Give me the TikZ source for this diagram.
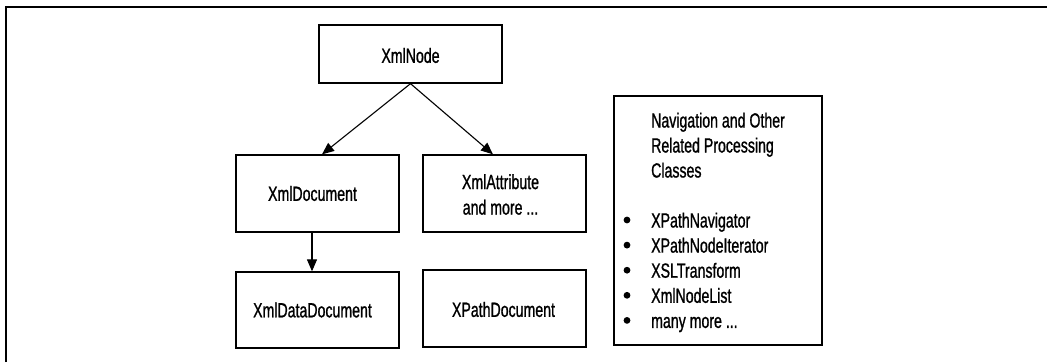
\documentclass[tikz,border=0pt]{standalone}
\usepackage{fontspec}
\setmainfont{Liberation Sans}[FakeStretch=0.69,FakeBold=1]
\usetikzlibrary{arrows.meta,calc}
\begin{document}
\begin{tikzpicture}[x=1pt,y=-1pt,
  box/.style={draw,line width=1.3pt,rectangle,inner sep=0pt},
  lbl/.style={font=\fontsize{20.5}{25.5}\selectfont,inner sep=0pt,align=center},
  itm/.style={font=\fontsize{20.5}{25.5}\selectfont,inner sep=0pt,anchor=base west},
  arr/.style={line width=1.1pt,-{Triangle[length=12pt,width=10pt]}}]
\useasboundingbox (0,0) rectangle (1047,362);
\draw[line width=2pt] (6,362) -- (6,7) -- (1047,7);
% boxes
\node[box,minimum width=183pt,minimum height=58pt] (xmlnode) at (410.5,54) {};
\node[box,minimum width=163pt,minimum height=77pt] (doc) at (317.5,193.5) {};
\node[box,minimum width=163pt,minimum height=77pt] (attr) at (504.5,193.5) {};
\node[box,minimum width=163pt,minimum height=76pt] (datadoc) at (317.5,310) {};
\node[box,minimum width=163pt,minimum height=77pt] (xpath) at (504.5,308.5) {};
\node[box,minimum width=208pt,minimum height=249pt] (nav) at (718,220.5) {};
% labels
\node[lbl] (tnode) at ($(xmlnode)+(0,1.5)$) {XmlNode};
\node[lbl] (tdoc) at ($(doc)+(-5,0)$) {XmlDocument};
\node[lbl] (tattr) at ($(attr)+(-4,1)$) {XmlAttribute\\and more ...};
\node[lbl] (tdata) at ($(datadoc)+(-5,0)$) {XmlDataDocument};
\node[lbl] (txpath) at ($(xpath)+(-1,1)$) {XPathDocument};
% navigation box text
\node[itm] (h1) at (651,127.5) {Navigation and Other};
\node[itm] (h2) at (651,152.5) {Related Processing};
\node[itm] (h3) at (651,177.5) {Classes};
\foreach \t [count=\i] in {{XPathNavigator},{XPathNodeIterator},{XSLTransform},{XmlNodeList},{many more {...}}}{
  \node[itm] (i\i) at (651,{227.5+25.1*(\i-1)}) {\t};
  \fill (627,{220+25.1*(\i-1)}) circle (3.4pt);
}
% arrows
\draw[arr] (xmlnode.south) -- ($(doc.north)+(4.5,0)$);
\draw[arr] (xmlnode.south) -- ($(attr.north)+(-11.5,0)$);
\draw[arr] ($(doc.south)+(-5.5,0)$) -- ($(datadoc.north)+(-5.5,0)$);
\end{tikzpicture}
\end{document}
